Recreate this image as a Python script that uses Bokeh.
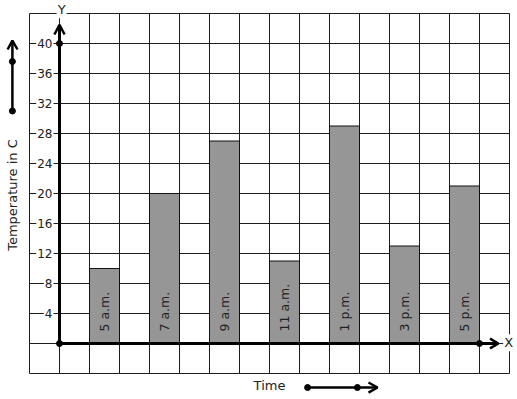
import math
from bokeh.plotting import figure
from bokeh.models import ColumnDataSource, Range1d
from bokeh.core.properties import value
from bokeh.embed import file_html
from bokeh.resources import INLINE

# ---- data ----
times = ["5 a.m.", "7 a.m.", "9 a.m.", "11 a.m.", "1 p.m.", "3 p.m.", "5 p.m."]
bar_left = [1, 3, 5, 7, 9, 11, 13]          # grid-cell position of each bar
temps = [10, 20, 27, 11, 29, 13, 21]
y_ticks = [4, 8, 12, 16, 20, 24, 28, 32, 36, 40]
y_tick_labels = [str(t) for t in y_ticks]

FONT = value("DejaVu Sans")
INK = "#222222"

# 1 grid cell = 30px horizontally, 1 degree = 7.5px vertically; origin at (59, 343)
W, H = 517, 399
p = figure(width=W, height=H, output_backend="svg", toolbar_location=None,
           x_axis_type=None, y_axis_type=None, min_border=0,
           x_range=Range1d(-59 / 30.0, (W - 59) / 30.0),
           y_range=Range1d((343 - H) / 7.5, 343 / 7.5))
p.outline_line_color = None
p.xgrid.visible = False
p.ygrid.visible = False
p.background_fill_color = "white"
p.border_fill_color = "white"

# ---- grid ----
gx = list(range(-1, 16))
p.segment(x0=gx, y0=[-4] * len(gx), x1=gx, y1=[44] * len(gx), line_color="#1e1e1e", line_width=1)
gy = list(range(-4, 45, 4))
p.segment(x0=[-1] * len(gy), y0=gy, x1=[15] * len(gy), y1=gy, line_color="#1e1e1e", line_width=1)

# ---- bars ----
src = ColumnDataSource(dict(
    left=bar_left,
    right=[b + 1 for b in bar_left],
    top=temps,
    bottom=[0] * len(temps),
    mid=[b + 0.5 for b in bar_left],
    ly=[1.6] * len(temps),
    label=times,
))
p.quad(left="left", right="right", top="top", bottom="bottom", source=src,
       fill_color="#969696", line_color="#111111", line_width=1)
p.text(x="mid", y="ly", text="label", source=src, angle=math.pi / 2,
       text_align="left", text_baseline="middle", text_font=FONT,
       text_font_size="12.5px", text_color=INK)

# ---- axes (thick lines, arrows, dots) ----
p.line([0, 0], [0, 42.4], line_color="black", line_width=3)
p.line([-0.17, 0, 0.17], [41.2, 42.5, 41.2], line_color="black", line_width=2.5)
p.line([0, 14.6], [0, 0], line_color="black", line_width=3)
p.line([14.35, 14.63, 14.35], [0.65, 0, -0.65], line_color="black", line_width=2.5)
p.scatter([0, 0, 14], [0, 40, 0], size=6, color="black")

# ---- tick labels ----
p.text(x=[-0.2] * len(y_ticks), y=y_ticks, text=y_tick_labels,
       text_align="right", text_baseline="middle", text_font=FONT,
       text_font_size="12px", text_color=INK,
       background_fill_color="white", padding=1)

# axis letters
p.text(x=[0.07], y=[44.5], text=["Y"], text_align="center", text_baseline="middle",
       text_font=FONT, text_font_size="13px", text_color=INK,
       background_fill_color="white", padding=1)
p.text(x=[14.97], y=[0.1], text=["X"], text_align="center", text_baseline="middle",
       text_font=FONT, text_font_size="13px", text_color=INK,
       background_fill_color="white", padding=1)

# ---- axis titles with decorative arrows ----
p.text(x=[-1.57], y=[19.8], text=["Temperature in C"], angle=math.pi / 2,
       text_align="center", text_baseline="middle", text_font=FONT,
       text_font_size="13px", text_color=INK)
p.line([-1.57, -1.57], [31.0, 40.1], line_color="black", line_width=2.5)
p.line([-1.73, -1.57, -1.40], [39.2, 40.4, 39.2], line_color="black", line_width=2.5)
p.scatter([-1.57, -1.57], [37.6, 31.0], size=6, color="black")

p.text(x=[7.0], y=[-5.6], text=["Time"], text_align="center", text_baseline="middle",
       text_font=FONT, text_font_size="13px", text_color=INK)
p.line([8.27, 10.6], [-5.87, -5.87], line_color="black", line_width=2.5)
p.line([10.3, 10.6, 10.3], [-5.2, -5.87, -6.54], line_color="black", line_width=2.5)
p.scatter([8.27, 9.93], [-5.87, -5.87], size=6, color="black")

open("out.html", "w").write(file_html(p, INLINE))
